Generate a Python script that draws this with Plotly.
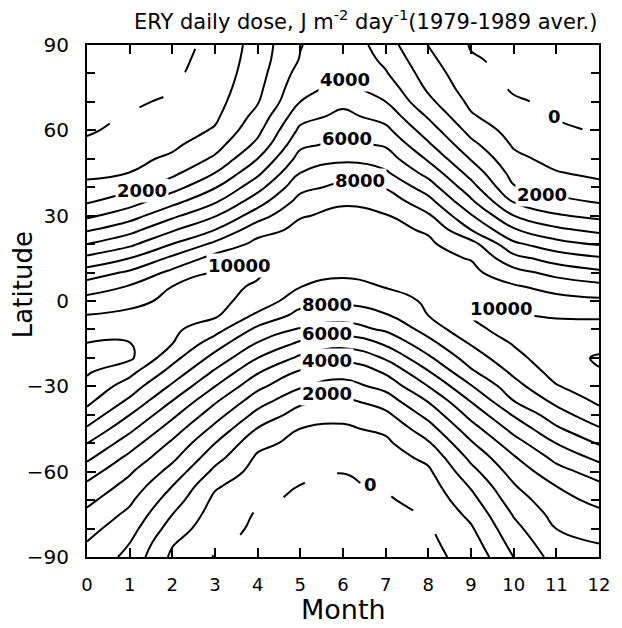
import numpy as np
import plotly.graph_objects as go

# Month boundaries (0 = 1 January ... 12 = 31 December) and latitudes of the grid
months = list(range(13))
latitudes = list(range(-90, 91, 5))

# Daily erythemal (ERY) dose, J m-2 day-1, 1979-1989 average.
# One list per month boundary, ordered from 90S to 90N in 5-degree steps.
m00 = [3800, 3970, 4340, 4770, 5250, 5790, 6460, 7230, 8010, 8860, 9650, 10260, 10740, 11100, 11300, 11030, 10530, 10020, 9350, 8520, 7440, 6250, 5010, 3890, 2800, 1880, 1250, 790, 450, 150, -100, -150, -200, -200, -200, -200, -200]
m01 = [2700, 3010, 3390, 3770, 4180, 4640, 5130, 5750, 6460, 7230, 8010, 8830, 9530, 10270, 11180, 11040, 10570, 10210, 9740, 9080, 8170, 7010, 5780, 4670, 3570, 2560, 1710, 1010, 730, 450, 240, 40, -100, -150, -200, -200, -200]
m02 = [800, 1090, 1550, 2010, 2500, 3010, 3630, 4240, 4820, 5500, 6230, 7010, 7830, 8620, 9330, 10010, 10200, 10400, 10210, 10020, 9250, 8220, 7010, 5890, 4780, 3670, 2600, 1760, 1180, 800, 510, 290, 100, -50, -150, -200, -200]
m03 = [-50, 130, 350, 550, 780, 1130, 1750, 2380, 3010, 3710, 4430, 5170, 6010, 6830, 7670, 8460, 9380, 10150, 10250, 10200, 10060, 9370, 8230, 7010, 5920, 4870, 3930, 3010, 2170, 1600, 1100, 820, 650, 500, 380, 260, 150]
m04 = [-200, -200, -150, -80, 120, 400, 610, 850, 1270, 1930, 2690, 3460, 4250, 5090, 6010, 6910, 7750, 8800, 9650, 9920, 10080, 9730, 9290, 8620, 7550, 6560, 5650, 4790, 4010, 3240, 2740, 2330, 1930, 1740, 1600, 1510, 1450]
m05 = [-200, -200, -200, -200, -120, -20, 250, 500, 720, 980, 1560, 2250, 3080, 3850, 4800, 5800, 6890, 7690, 8380, 9010, 9380, 9750, 9490, 9230, 8940, 8350, 7710, 7010, 6380, 5780, 5220, 4630, 4010, 3690, 3380, 3060, 2950]
m06 = [-200, -200, -200, -200, -150, -100, 15, 350, 650, 870, 1230, 1800, 2590, 3410, 4230, 5360, 6500, 7460, 8180, 8770, 9140, 9370, 9600, 9390, 9180, 8910, 8260, 7530, 6820, 6250, 5730, 5240, 4760, 4280, 3970, 3880, 3800]
m07 = [-200, -200, -200, -200, -100, 90, 300, 550, 810, 1180, 1770, 2500, 3310, 4100, 5100, 6110, 7150, 7920, 8530, 9030, 9190, 9350, 9390, 9230, 9060, 8600, 7920, 7150, 6500, 5880, 5250, 4630, 4010, 3550, 3090, 2760, 2450]
m08 = [-200, -200, -100, 50, 300, 550, 830, 1250, 1880, 2570, 3310, 4090, 5010, 5910, 6820, 7670, 8380, 9010, 9150, 9310, 9350, 9260, 9150, 8900, 8140, 7330, 6500, 5670, 4860, 4140, 3500, 2880, 2250, 1820, 1530, 1240, 970]
m09 = [250, 560, 880, 1250, 1670, 2110, 2670, 3250, 3880, 4570, 5310, 6080, 6920, 7820, 8500, 9070, 9800, 10020, 9900, 9500, 9250, 8950, 8400, 7010, 6090, 5180, 4390, 3640, 2930, 2270, 1670, 1110, 780, 500, 290, 80, -60]
m10 = [2010, 2360, 2710, 3080, 3500, 3920, 4400, 4900, 5570, 6310, 7090, 8010, 8630, 9190, 9670, 10070, 10300, 10030, 9570, 9130, 8360, 7330, 6220, 5110, 4010, 2920, 2080, 1640, 1240, 890, 600, 350, 100, -100, -200, -200, -200]
m11 = [3400, 3700, 4010, 4330, 4670, 5010, 5630, 6290, 7010, 7830, 8570, 9270, 9930, 10370, 10660, 10430, 10200, 9940, 9350, 8640, 7670, 6560, 5380, 4220, 3110, 2250, 1610, 1060, 700, 420, 170, -60, -150, -200, -200, -200, -200]
m12 = [3800, 4010, 4400, 4790, 5250, 5780, 6460, 7270, 8100, 8890, 9650, 10200, 10580, 10950, 11090, 10730, 10330, 9870, 9200, 8300, 7220, 6130, 4930, 3750, 2740, 1910, 1260, 800, 480, 180, -80, -150, -200, -200, -200, -200, -200]

# Contour labels: text, month, latitude
label_text = ["4000", "6000", "8000", "2000", "2000", "0", "10000", "10000",
              "8000", "6000", "4000", "2000", "0"]
label_month = [6.05, 6.1, 6.4, 1.3, 10.67, 10.96, 3.58, 9.72,
               5.62, 5.62, 5.62, 5.62, 6.65]
label_lat = [77.7, 57.2, 42.3, 39.0, 37.6, 64.9, 12.6, -2.5,
             -1.2, -11.5, -21.0, -32.4, -64.5]

dose = np.array([m00, m01, m02, m03, m04, m05, m06, m07, m08, m09, m10, m11, m12]).T

FONT = "DejaVu Sans"

fig = go.Figure()

# Positive levels: solid lines every 1000
fig.add_trace(go.Contour(
    x=months, y=latitudes, z=dose,
    contours=dict(start=1000, end=11000, size=1000, coloring="none", showlabels=False),
    line=dict(color="black", width=2, smoothing=1.3),
    showscale=False, hoverinfo="skip",
))

# Zero level: dashed line
fig.add_trace(go.Contour(
    x=months, y=latitudes, z=dose,
    contours=dict(start=0, end=0, size=1000, coloring="none", showlabels=False),
    line=dict(color="black", width=2, dash="26px,34px", smoothing=1.3),
    showscale=False, hoverinfo="skip",
))

annotations = []
for txt, mx, la in zip(label_text, label_month, label_lat):
    annotations.append(dict(
        x=mx, y=la, xref="x", yref="y", text="<b>%s</b>" % txt, showarrow=False,
        font=dict(family=FONT, size=18, color="black"),
        bgcolor="white", borderpad=1,
    ))

annotations += [
    dict(x=1.0, y=1.049, xref="paper", yref="paper", xanchor="right", yanchor="middle",
         text="ERY daily dose, J m<sup>-2</sup> day<sup>-1</sup>(1979-1989 aver.)",
         showarrow=False, font=dict(family=FONT, size=21, color="black")),
    dict(x=-0.125, y=0.531, xref="paper", yref="paper", xanchor="center", yanchor="middle",
         text="Latitude", textangle=-90, showarrow=False,
         font=dict(family=FONT, size=26, color="black")),
    dict(x=0.5, y=-0.102, xref="paper", yref="paper", xanchor="center", yanchor="middle",
         text="Month", showarrow=False, font=dict(family=FONT, size=27, color="black")),
]

fig.update_layout(
    width=622, height=628,
    margin=dict(l=87, r=16, t=45, b=71),
    paper_bgcolor="white", plot_bgcolor="white",
    showlegend=False,
    annotations=annotations,
    xaxis=dict(
        range=[0, 12], tickmode="array", tickvals=months, ticktext=[str(m) for m in months],
        ticks="inside", ticklen=9, tickwidth=1.5, tickcolor="black",
        showline=True, linewidth=2, linecolor="black", mirror="allticks",
        showgrid=False, zeroline=False,
        tickfont=dict(family=FONT, size=18, color="black"),
        ticklabelstandoff=10,
    ),
    yaxis=dict(
        range=[-90, 90], tickmode="array", tickvals=[-90, -60, -30, 0, 30, 60, 90],
        ticks="inside", ticklen=9, tickwidth=1.5, tickcolor="black",
        minor=dict(dtick=10, ticks="inside", ticklen=8, tickwidth=1.5, tickcolor="black", showgrid=False),
        showline=True, linewidth=2, linecolor="black", mirror="allticks",
        showgrid=False, zeroline=False,
        tickfont=dict(family=FONT, size=20, color="black"),
        ticklabelstandoff=12,
    ),
)

fig.write_html("out.html")
